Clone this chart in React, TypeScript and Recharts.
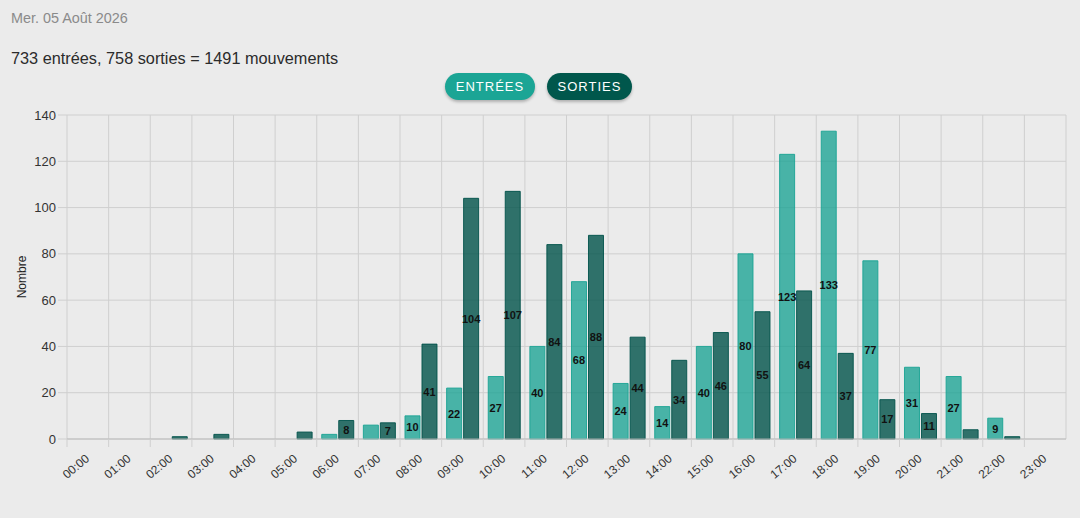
import { BarChart, Bar, XAxis, YAxis, CartesianGrid, LabelList } from 'recharts'

const hours = [
  '00:00', '01:00', '02:00', '03:00', '04:00', '05:00', '06:00', '07:00',
  '08:00', '09:00', '10:00', '11:00', '12:00', '13:00', '14:00', '15:00',
  '16:00', '17:00', '18:00', '19:00', '20:00', '21:00', '22:00', '23:00',
]
const entrees = [0, 0, 0, 0, 0, 0, 2, 6, 10, 22, 27, 40, 68, 24, 14, 40, 80, 123, 133, 77, 31, 27, 9, 0]
const sorties = [0, 0, 1, 2, 0, 3, 8, 7, 41, 104, 107, 84, 88, 44, 34, 46, 55, 64, 37, 17, 11, 4, 1, 0]
const yTicks = [0, 20, 40, 60, 80, 100, 120, 140]

const data = hours.map((h, i) => ({ hour: h, entrees: entrees[i], sorties: sorties[i] }))

const W = 1080
const H = 518
const MARGIN = { top: 115, right: 14, bottom: 19, left: 0 }
const Y_WIDTH = 67
const BAND = (W - MARGIN.left - MARGIN.right - Y_WIDTH) / hours.length

const FONT = '"Liberation Sans", Arial, Helvetica, sans-serif'
const C_IN = '#1aa393'
const C_OUT = '#00524a'

// ticks sit on the left edge of each hour band, not in its middle
const XTick = ({ x, y, payload }: any) => {
  const gx = x - BAND / 2
  return (
    <g>
      <line x1={gx} x2={gx} y1={y - 8} y2={y} stroke="#cfcfcf" />
      <text
        x={gx + 23}
        y={y + 13}
        textAnchor="end"
        fontSize={12}
        fill="#333"
        fontFamily={FONT}
        transform={`rotate(-40, ${gx + 23}, ${y + 13})`}
      >
        {payload.value}
      </text>
    </g>
  )
}

const BarValue = ({ x, y, width, height, value }: any) => {
  if (value < 7) return null
  return (
    <text
      x={x + width / 2}
      y={y + height / 2}
      textAnchor="middle"
      dominantBaseline="central"
      fontSize={11}
      fontWeight="bold"
      fill="#111"
      fontFamily={FONT}
    >
      {value}
    </text>
  )
}

const pill = (bg: string) => ({
  position: 'absolute' as const,
  top: 73,
  height: 27,
  borderRadius: 14,
  background: bg,
  color: '#fff',
  fontSize: 13,
  letterSpacing: 1,
  fontFamily: FONT,
  display: 'flex',
  alignItems: 'center',
  justifyContent: 'center',
  boxShadow: '0 2px 3px rgba(0,0,0,0.25)',
})

export default function App() {
  return (
    <div
      style={{
        position: 'fixed',
        left: 0,
        top: 0,
        width: W,
        height: H,
        background: '#ebebeb',
        fontFamily: FONT,
        overflow: 'hidden',
      }}
    >
      <div style={{ position: 'absolute', left: 11, top: 10, fontSize: 14.4, color: '#8a8a8a' }}>
        Mer. 05 Août 2026
      </div>
      <div style={{ position: 'absolute', left: 11, top: 49, fontSize: 16.3, color: '#2b2b2b' }}>
        733 entrées, 758 sorties = 1491 mouvements
      </div>
      <div style={{ ...pill('#1ba595'), left: 445, width: 90 }}>ENTRÉES</div>
      <div style={{ ...pill('#00574c'), left: 547, width: 85 }}>SORTIES</div>

      <div style={{ position: 'absolute', left: 0, top: 0 }}>
        <BarChart
          width={W}
          height={H}
          data={data}
          margin={MARGIN}
          barCategoryGap="12%"
          barGap={2}
        >
          <CartesianGrid
            stroke="#cfcfcf"
            verticalCoordinatesGenerator={({ offset }: any) =>
              hours.map((_, i) => offset.left + i * (offset.width / hours.length)).concat(offset.left + offset.width)
            }
          />
          <XAxis
            dataKey="hour"
            interval={0}
            height={60}
            tickSize={8}
            tickMargin={0}
            tickLine={false}
            axisLine={{ stroke: '#bdbdbd' }}
            tick={<XTick />}
          />
          <YAxis
            width={Y_WIDTH}
            domain={[0, 140]}
            ticks={yTicks}
            tickSize={9}
            tickMargin={2}
            axisLine={false}
            tickLine={{ stroke: '#cfcfcf' }}
            tick={{ fontSize: 13, fill: '#333', fontFamily: FONT }}
            label={{
              value: 'Nombre',
              angle: -90,
              position: 'insideLeft',
              offset: 22,
              style: { fontSize: 12, fill: '#222', fontFamily: FONT, textAnchor: 'middle' },
            }}
          />
          <Bar
            dataKey="entrees"
            fill={C_IN}
            fillOpacity={0.78}
            stroke={C_IN}
            strokeOpacity={0.9}
            isAnimationActive={false}
          >
            <LabelList dataKey="entrees" content={<BarValue />} />
          </Bar>
          <Bar
            dataKey="sorties"
            fill={C_OUT}
            fillOpacity={0.8}
            stroke={C_OUT}
            strokeOpacity={0.9}
            isAnimationActive={false}
          >
            <LabelList dataKey="sorties" content={<BarValue />} />
          </Bar>
        </BarChart>
      </div>
    </div>
  )
}
